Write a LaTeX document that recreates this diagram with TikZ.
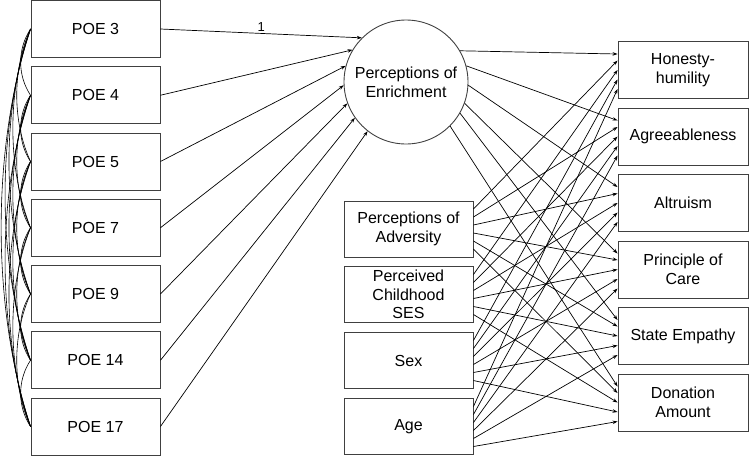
\documentclass[tikz,border=0pt]{standalone}
\usepackage{fontspec}
\setmainfont{Liberation Sans}
\usetikzlibrary{arrows.meta}
\begin{document}
\begin{tikzpicture}[x=1pt,y=-1pt,
  box/.style={draw=black!75,line width=0.9pt,minimum width=129pt,minimum height=57pt,inner sep=1pt,align=center,font=\fontsize{16}{18.5}\selectfont},
  latent/.style={draw=black!75,line width=0.9pt,circle,minimum size=124pt,inner sep=0pt,align=center,font=\fontsize{16}{19}\selectfont},
  arr/.style={line width=0.7pt,-{Stealth[length=5pt,width=3.5pt]}},
  cov/.style={line width=0.6pt},
  lbl/.style={font=\fontsize{13}{14}\selectfont,inner sep=2pt}]
\useasboundingbox (0,0) rectangle (750,459);
% POE indicators
\node[box] (p1) at (95.5,29) {POE 3};
\node[box] (p2) at (95.5,95.25) {POE 4};
\node[box] (p3) at (95.5,161.5) {POE 5};
\node[box] (p4) at (95.5,227.75) {POE 7};
\node[box] (p5) at (95.5,294) {POE 9};
\node[box] (p6) at (95.5,360.25) {POE 14};
\node[box] (p7) at (95.5,426.5) {POE 17};
% latent
\node[latent] (c) at (406,82) {Perceptions of\\Enrichment};
% middle predictors
\node[box,minimum height=56pt] (adv) at (408.5,229) {Perceptions of\\Adversity};
\node[box,minimum height=56pt] (ses) at (408.5,294.5) {Perceived\\Childhood\\SES};
\node[box,minimum height=56pt] (sex) at (408.5,360.5) {Sex};
\node[box,minimum height=56pt] (age) at (408.5,426.5) {Age};
% outcomes
\node[box,minimum width=130pt] (r1) at (683,70) {Honesty-\\humility};
\node[box,minimum width=130pt] (r2) at (683,136.5) {Agreeableness};
\node[box,minimum width=130pt] (r3) at (683,203) {Altruism};
\node[box,minimum width=130pt] (r4) at (683,269.5) {Principle of\\Care};
\node[box,minimum width=130pt] (r5) at (683,336) {State Empathy};
\node[box,minimum width=130pt] (r6) at (683,402.5) {Donation\\Amount};
% covariances among POE items
\foreach \i in {1,...,6}{
  \pgfmathtruncatemacro\inext{\i+1}
  \foreach \j in {\inext,...,7}{
    \pgfmathsetmacro\dd{8+5.2*(\j-\i)}
    \pgfmathsetmacro\hh{0.3*66.25*(\j-\i)}
    \draw[cov] (p\i.west) .. controls +(-\dd,\hh) and +(-\dd,-\hh) .. (p\j.west);
  }
}
% loadings
\draw[arr] (p1.east) -- node[lbl,above,pos=0.5] {1} (c.135);
\foreach \a [count=\i from 2] in {149.5,165.5,183,200,215,232}
  \draw[arr] (p\i.east) -- (c.\a);
% latent to outcomes
\foreach \a [count=\ri] in {30,15,-3,-20,-30,-45}
  \draw[arr] (c.\a) -- ([yshift=16pt]r\ri.west);
% predictors to outcomes
\foreach \m [count=\mi] in {adv,ses,sex,age}{
  \foreach \ri in {1,...,6}{
    \pgfmathsetmacro\ys{28-8*\ri}
    \pgfmathsetmacro\ye{-9.5*(\mi-2)}
    \draw[arr] ([yshift=\ys pt]\m.east) -- ([yshift=\ye pt]r\ri.west);
  }
}
\end{tikzpicture}
\end{document}
